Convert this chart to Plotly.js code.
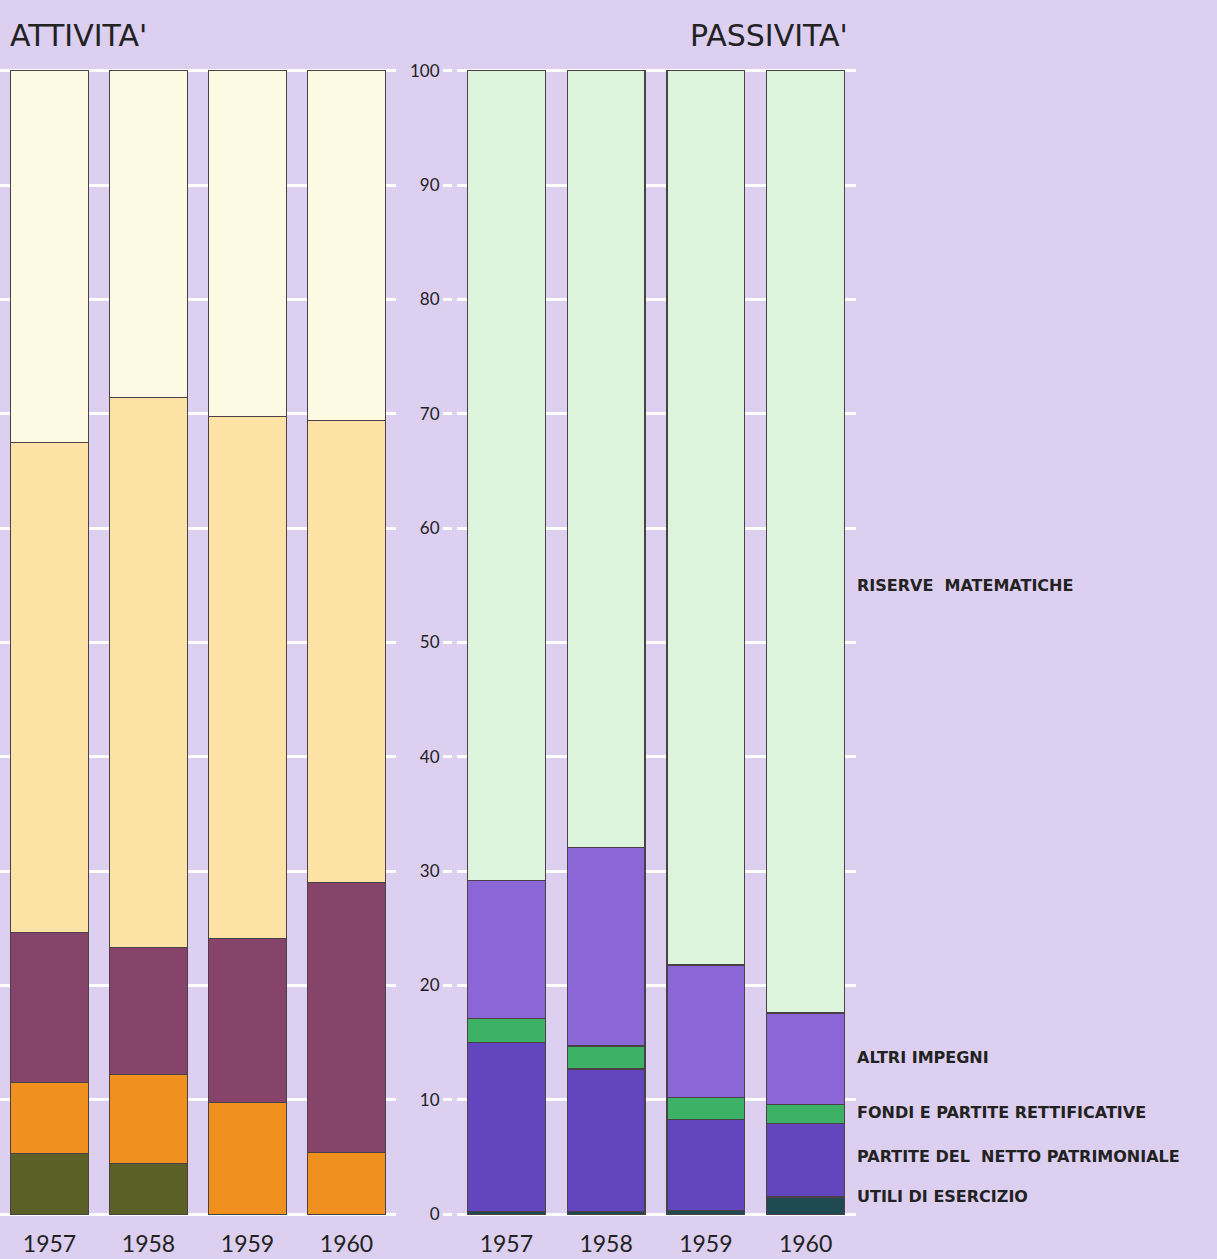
<!DOCTYPE html>
<html>
<head>
<meta charset="utf-8">
<script src="https://cdn.plot.ly/plotly-3.0.1.min.js"></script>
<style>
  html, body { margin: 0; padding: 0; background: #ddcff0; }
  #chart { width: 1217px; height: 1259px; }
</style>
</head>
<body>
<div id="chart"></div>
<script>
// ---- data (percent of total) ----
const years = ['1957', '1958', '1959', '1960'];

// ATTIVITA' (bottom to top)
const attOlive  = [5.3, 4.4, 0.0, 0.0];
const attOrange = [6.2, 7.8, 9.8, 5.4];
const attMaroon = [13.1, 11.1, 14.3, 23.6];
const attPeach  = [42.9, 48.1, 45.7, 40.4];
const attCream  = [32.5, 28.6, 30.2, 30.6];

// PASSIVITA' (bottom to top)
const passLabels = ['UTILI DI ESERCIZIO', 'PARTITE DEL  NETTO PATRIMONIALE',
  'FONDI E PARTITE RETTIFICATIVE', 'ALTRI IMPEGNI', 'RISERVE  MATEMATICHE'];
const pasUtili   = [0.2, 0.2, 0.3, 1.5];
const pasNetto   = [14.8, 12.5, 8.0, 6.4];
const pasFondi   = [2.1, 2.0, 1.9, 1.7];
const pasAltri   = [12.1, 17.4, 11.6, 8.0];
const pasRiserve = [70.8, 67.9, 78.2, 82.4];

const yTicks = [0, 10, 20, 30, 40, 50, 60, 70, 80, 90, 100];

// ---- styling ----
const W = 1217, H = 1259;
const bg = '#ddcff0';
const edge = '#4a4046';
const attColors = ['#5b6126', '#f0901f', '#86446a', '#fde2a6', '#fdf9e3'];
const pasColors = ['#1f4a52', '#6345bf', '#3db266', '#8a66d6', '#dcf3dc'];
const labelFont = 'DejaVu Sans, sans-serif';

function bar(name, y, color, xa, ya) {
  return {
    type: 'bar', name: name, x: years, y: y,
    xaxis: xa, yaxis: ya,
    marker: { color: color, line: { color: edge, width: 1.2 } },
    showlegend: false, hoverinfo: 'name+y'
  };
}

const attSeries = [attOlive, attOrange, attMaroon, attPeach, attCream];
const attNames = ['Attività 1', 'Attività 2', 'Attività 3', 'Attività 4', 'Attività 5'];
const pasSeries = [pasUtili, pasNetto, pasFondi, pasAltri, pasRiserve];

const traces = [];
attSeries.forEach((s, i) => traces.push(bar(attNames[i], s, attColors[i], 'x', 'y')));
pasSeries.forEach((s, i) => traces.push(bar(passLabels[i], s, pasColors[i], 'x2', 'y2')));

const yTop = 71, yZero = 1214;
const pxPerUnit = (yZero - yTop) / 100;
const pad = 0.6;
const rng = [-pad, 100 + pad];
const mt = yTop - pad * pxPerUnit;
const mb = H - (yZero + pad * pxPerUnit);
const plotH = H - mt - mb;
// convert a page pixel y to paper fraction
const py = (px) => (H - mb - px) / plotH;
const pxX = (px) => px / W;

const xCommon = {
  type: 'category', range: [-0.5, 3.5], showgrid: false, zeroline: false,
  showline: false, ticks: 'outside', ticklen: 2, tickcolor: 'rgba(0,0,0,0)',
  tickfont: { family: 'Lato, sans-serif', size: 23, color: '#222' },
  fixedrange: true
};
const yCommon = {
  range: rng, tickvals: yTicks, showgrid: true, gridcolor: '#ffffff', gridwidth: 3,
  zeroline: false, showline: false, fixedrange: true
};

const legendY = {};
legendY[passLabels[4]] = 586;
legendY[passLabels[3]] = 1057;
legendY[passLabels[2]] = 1112;
legendY[passLabels[1]] = 1156;
legendY[passLabels[0]] = 1196;

const annotations = [
  { text: "ATTIVITA'", xref: 'paper', yref: 'paper', x: pxX(8), y: py(36),
    xanchor: 'left', yanchor: 'middle', showarrow: false,
    font: { family: labelFont, size: 30, color: '#222' } },
  { text: "PASSIVITA'", xref: 'paper', yref: 'paper', x: pxX(850), y: py(36),
    xanchor: 'right', yanchor: 'middle', showarrow: false,
    font: { family: labelFont, size: 30, color: '#222' } }
];
passLabels.slice().reverse().forEach(lbl => {
  annotations.push({
    text: lbl.replace(/  /g, '&nbsp; '), xref: 'paper', yref: 'paper',
    x: pxX(855), y: py(legendY[lbl]), xanchor: 'left', yanchor: 'middle',
    showarrow: false,
    font: { family: labelFont, size: 16, color: '#222', weight: 'bold' }
  });
});

const layout = {
  width: W, height: H,
  paper_bgcolor: bg, plot_bgcolor: bg,
  margin: { l: 0, r: 0, t: mt, b: mb, pad: 0 },
  barmode: 'stack', bargap: 0.22,
  showlegend: false,
  xaxis: Object.assign({}, xCommon, { domain: [0, 396 / W], anchor: 'y' }),
  xaxis2: Object.assign({}, xCommon, { domain: [456.5 / W, 855.5 / W], anchor: 'y2' }),
  yaxis: Object.assign({}, yCommon, {
    anchor: 'free', position: 452 / W, side: 'left',
    ticks: 'outside', ticklen: 9, tickwidth: 3, tickcolor: '#ffffff',
    showticklabels: true,
    tickfont: { family: 'Lato, sans-serif', size: 17, color: '#222' }
  }),
  yaxis2: Object.assign({}, yCommon, { anchor: 'x2', matches: 'y', showticklabels: false, ticks: '' }),
  annotations: annotations
};

Plotly.newPlot('chart', traces, layout, { displayModeBar: false, staticPlot: true });
</script>
</body>
</html>
